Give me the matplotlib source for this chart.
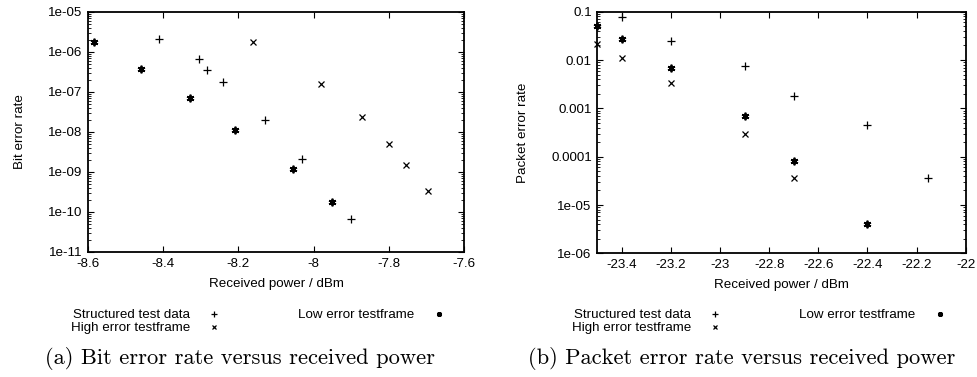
import matplotlib
matplotlib.use("Agg")
import matplotlib.pyplot as plt
from matplotlib.ticker import LogLocator, NullFormatter, FixedLocator

# (a) bit error rate versus received power
ber_struct_x = [-8.41, -8.305, -8.284, -8.24, -8.13, -8.03, -7.90]
ber_struct_y = [2.1e-6, 6.8e-7, 3.5e-7, 1.78e-7, 2.0e-8, 2.1e-9, 6.6e-11]
ber_high_x = [-8.16, -7.98, -7.87, -7.80, -7.755, -7.695]
ber_high_y = [1.78e-6, 1.55e-7, 2.33e-8, 4.9e-9, 1.47e-9, 3.3e-10]
ber_low_x = [-8.583, -8.46, -8.33, -8.21, -8.056, -7.95]
ber_low_y = [1.78e-6, 3.7e-7, 7.2e-8, 1.1e-8, 1.17e-9, 1.78e-10]

# (b) packet error rate versus received power
per_struct_x = [-23.4, -23.2, -22.9, -22.7, -22.4, -22.155]
per_struct_y = [0.076, 0.0243, 0.0074, 0.00177, 4.5e-4, 3.57e-5]
per_high_x = [-23.5, -23.4, -23.2, -22.9, -22.7]
per_high_y = [0.0211, 0.0108, 0.00334, 3.0e-4, 3.7e-5]
per_low_x = [-23.5, -23.4, -23.2, -22.9, -22.7, -22.4]
per_low_y = [0.0505, 0.0272, 0.0068, 6.9e-4, 8.1e-5, 4.0e-6]

ber_yticks = [1e-11, 1e-10, 1e-9, 1e-8, 1e-7, 1e-6, 1e-5]
ber_ylabels = ["1e-11", "1e-10", "1e-09", "1e-08", "1e-07", "1e-06", "1e-05"]
ber_xticks = [-8.6, -8.4, -8.2, -8.0, -7.8, -7.6]
ber_xlabels = ["-8.6", "-8.4", "-8.2", "-8", "-7.8", "-7.6"]
per_yticks = [1e-6, 1e-5, 1e-4, 1e-3, 1e-2, 1e-1]
per_ylabels = ["1e-06", "1e-05", "0.0001", "0.001", "0.01", "0.1"]
per_xticks = [-23.4, -23.2, -23.0, -22.8, -22.6, -22.4, -22.2, -22.0]
per_xlabels = ["-23.4", "-23.2", "-23", "-22.8", "-22.6", "-22.4", "-22.2", "-22"]

SANS = "Liberation Sans"
FS = 9.6

fig = plt.figure(figsize=(9.77, 3.77), dpi=100)


def draw_panel(ax, sx, sy, hx, hy, lx, ly, xlim, ylim, xticks, xlabels, yticks, ylabels, ylabel):
    kw = dict(ls="none", color="black", clip_on=False)
    ax.plot(sx, sy, marker="+", ms=6, mew=0.9, label="Structured test data", **kw)
    ax.plot(hx, hy, marker="x", ms=4.5, mew=0.9, label="High error testframe", **kw)
    ax.plot(lx, ly, marker=(6, 2, 0), ms=5.5, mew=1.3, label="Low error testframe", **kw)
    ax.set_yscale("log")
    ax.set_xlim(*xlim)
    ax.set_ylim(*ylim)
    ax.xaxis.set_major_locator(FixedLocator(xticks))
    ax.set_xticklabels(xlabels)
    ax.yaxis.set_major_locator(FixedLocator(yticks))
    ax.set_yticklabels(ylabels)
    ax.yaxis.set_minor_locator(LogLocator(base=10, subs=range(2, 10)))
    ax.yaxis.set_minor_formatter(NullFormatter())
    ax.tick_params(which="both", direction="in", top=True, right=True, labelsize=FS, colors="black", pad=4)
    ax.tick_params(which="major", length=4, width=0.8)
    ax.tick_params(which="minor", length=2, width=0.6)
    for lab in ax.get_xticklabels() + ax.get_yticklabels():
        lab.set_fontfamily(SANS)
    for s in ax.spines.values():
        s.set_linewidth(1.3)
    ax.set_xlabel("Received power / dBm", fontsize=FS, family=SANS, labelpad=6)
    ax.set_ylabel(ylabel, fontsize=FS, family=SANS, labelpad=16)


ax1 = fig.add_axes([0.0901, 0.3316, 0.3848, 0.6366])
draw_panel(ax1, ber_struct_x, ber_struct_y, ber_high_x, ber_high_y, ber_low_x, ber_low_y,
           (-8.6, -7.6), (1e-11, 1e-5), ber_xticks, ber_xlabels, ber_yticks, ber_ylabels, "Bit error rate")

ax2 = fig.add_axes([0.6114, 0.328, 0.377, 0.641])
draw_panel(ax2, per_struct_x, per_struct_y, per_high_x, per_high_y, per_low_x, per_low_y,
           (-23.5, -22.0), (1e-6, 1e-1), per_xticks, per_xlabels, per_yticks, per_ylabels, "Packet error rate")

for ax, x0 in ((ax1, 71 / 977), (ax2, 572 / 977)):
    h, l = ax.get_legend_handles_labels()
    ax.legend(h, l, ncol=2, markerfirst=False,
              loc="upper left", bbox_to_anchor=(x0, 1 - 309 / 377), bbox_transform=fig.transFigure,
              frameon=False, borderpad=0, borderaxespad=0, labelspacing=0.05,
              handlelength=2.0, handletextpad=0.8, columnspacing=5.3, markerscale=0.65,
              prop={"family": SANS, "size": FS})

fig.text(240 / 977, 1 - 359 / 377, "(a) Bit error rate versus received power",
         ha="center", va="center", family="cmr10", fontsize=16.2)
fig.text(742 / 977, 1 - 359 / 377, "(b) Packet error rate versus received power",
         ha="center", va="center", family="cmr10", fontsize=16.2)

fig.savefig("out.png", dpi=100)
